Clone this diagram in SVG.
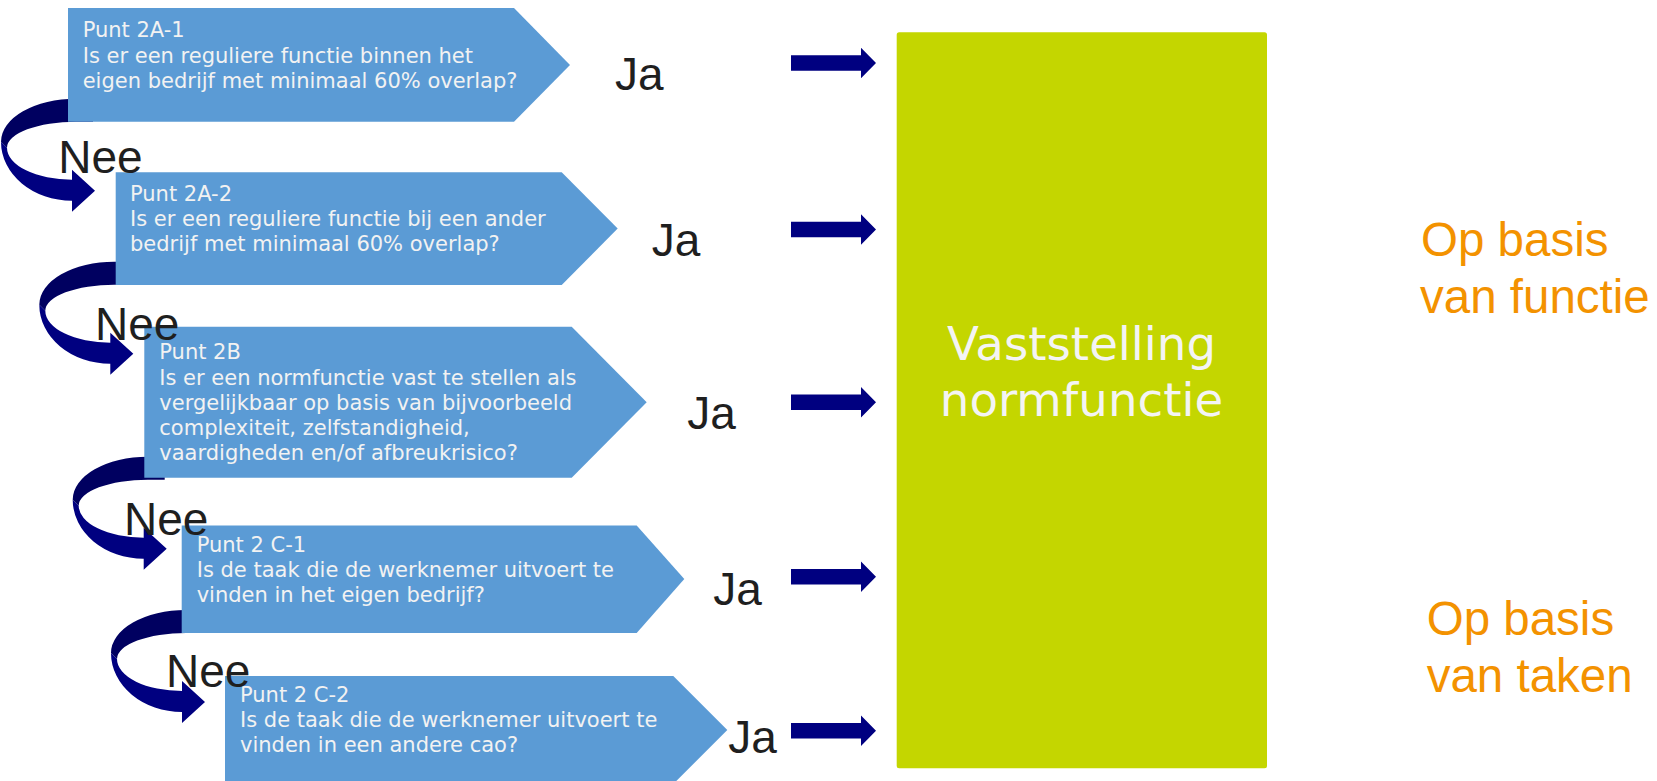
<svg xmlns="http://www.w3.org/2000/svg" width="1657" height="781" viewBox="0 0 1657 781">
<style>
.box{fill:#5b9bd5}
.bt{font-family:"DejaVu Sans",Verdana,sans-serif;font-size:21px;fill:#f2f2f2}
.lbl{font-family:"Liberation Sans",Arial,sans-serif;font-size:46px;fill:#1f1f1f}
.dark{fill:#000060}
.navy{fill:#000080}
.or{font-family:"Liberation Sans",Arial,sans-serif;font-size:47.5px;fill:#f39200}
.gt{font-family:"DejaVu Sans",Verdana,sans-serif;font-size:46.7px;fill:#f4f4f4;text-anchor:middle}
</style>
<rect width="1657" height="781" fill="#ffffff"/>
<g id="connectors">
  <g transform="translate(1,98.7)">
    <path class="dark" d="M92,0 L75,0 A75,43 0 0 0 0,43 L6,49 A69,26 0 0 1 75,23 L92,23 Z"/>
    <path class="navy" d="M0,43 A71,59 0 0 0 71,102 L71,113 L94,92 L71,71 L71,81 A65,32 0 0 1 6,49 Z"/>
  </g>
  <g transform="translate(39.3,261.7)">
    <path class="dark" d="M92,0 L75,0 A75,43 0 0 0 0,43 L6,49 A69,26 0 0 1 75,23 L92,23 Z"/>
    <path class="navy" d="M0,43 A71,59 0 0 0 71,102 L71,113 L94,92 L71,71 L71,81 A65,32 0 0 1 6,49 Z"/>
  </g>
  <g transform="translate(72.7,456.7)">
    <path class="dark" d="M92,0 L75,0 A75,43 0 0 0 0,43 L6,49 A69,26 0 0 1 75,23 L92,23 Z"/>
    <path class="navy" d="M0,43 A71,59 0 0 0 71,102 L71,113 L94,92 L71,71 L71,81 A65,32 0 0 1 6,49 Z"/>
  </g>
  <g transform="translate(111,610)">
    <path class="dark" d="M92,0 L75,0 A75,43 0 0 0 0,43 L6,49 A69,26 0 0 1 75,23 L92,23 Z"/>
    <path class="navy" d="M0,43 A71,59 0 0 0 71,102 L71,113 L94,92 L71,71 L71,81 A65,32 0 0 1 6,49 Z"/>
  </g>
  <path class="navy" transform="translate(791,63)" d="M0,-7.8 H70 V-15.3 L85,0 L70,15.3 V7.8 H0 Z"/>
  <path class="navy" transform="translate(791,229.5)" d="M0,-7.8 H70 V-15.3 L85,0 L70,15.3 V7.8 H0 Z"/>
  <path class="navy" transform="translate(791,402.3)" d="M0,-7.8 H70 V-15.3 L85,0 L70,15.3 V7.8 H0 Z"/>
  <path class="navy" transform="translate(791,576.7)" d="M0,-7.8 H70 V-15.3 L85,0 L70,15.3 V7.8 H0 Z"/>
  <path class="navy" transform="translate(791,730.8)" d="M0,-7.8 H70 V-15.3 L85,0 L70,15.3 V7.8 H0 Z"/>
</g>
<g id="node-2a1">
  <polygon class="box" points="68,8 514,8 570,65 514,121.7 68,121.7"/>
  <text class="bt" x="82.7" y="36.7">Punt 2A-1</text>
  <text class="bt" x="82.7" y="62.5">Is er een reguliere functie binnen het</text>
  <text class="bt" x="82.7" y="88.3">eigen bedrijf met minimaal 60% overlap?</text>
</g>
<g id="node-2a2">
  <polygon class="box" points="115.7,172.3 561.7,172.3 617.7,228.6 561.7,285 115.7,285"/>
  <text class="bt" x="130" y="200.7">Punt 2A-2</text>
  <text class="bt" x="130" y="226">Is er een reguliere functie bij een ander</text>
  <text class="bt" x="130" y="251">bedrijf met minimaal 60% overlap?</text>
</g>
<g id="node-2b">
  <polygon class="box" points="144.3,326.7 571.7,326.7 646.7,402.2 571.7,477.7 144.3,477.7"/>
  <text class="bt" x="159.3" y="359.3">Punt 2B</text>
  <text class="bt" x="159.3" y="385.2">Is er een normfunctie vast te stellen als</text>
  <text class="bt" x="159.3" y="410.2">vergelijkbaar op basis van bijvoorbeeld</text>
  <text class="bt" x="159.3" y="435.2">complexiteit, zelfstandigheid,</text>
  <text class="bt" x="159.3" y="460.2">vaardigheden en/of afbreukrisico?</text>
</g>
<g id="node-2c1">
  <polygon class="box" points="181.7,525.5 636.7,525.5 684.3,579 636.7,633 181.7,633"/>
  <text class="bt" x="196.7" y="552.3">Punt 2 C-1</text>
  <text class="bt" x="196.7" y="577">Is de taak die de werknemer uitvoert te</text>
  <text class="bt" x="196.7" y="601.7">vinden in het eigen bedrijf?</text>
</g>
<g id="node-2c2">
  <polygon class="box" points="225,676 673.3,676 727.3,730 673.3,784 225,784"/>
  <text class="bt" x="240" y="702.3">Punt 2 C-2</text>
  <text class="bt" x="240" y="727">Is de taak die de werknemer uitvoert te</text>
  <text class="bt" x="240" y="751.7">vinden in een andere cao?</text>
</g>
<g id="node-normfunctie">
  <rect x="896.7" y="32.3" width="370.3" height="736" rx="2.5" fill="#c4d600"/>
  <text class="gt" x="1081.5" y="360">Vaststelling</text>
  <text class="gt" x="1081.5" y="416">normfunctie</text>
</g>
<g id="labels">
  <text class="lbl" x="58.3" y="172.7">Nee</text>
  <text class="lbl" x="95" y="340">Nee</text>
  <text class="lbl" x="124" y="535">Nee</text>
  <text class="lbl" x="166" y="686.7">Nee</text>
  <text class="lbl" x="615" y="90">Ja</text>
  <text class="lbl" x="651.7" y="256">Ja</text>
  <text class="lbl" x="687.3" y="429.3">Ja</text>
  <text class="lbl" x="713.3" y="605">Ja</text>
  <text class="lbl" x="728.3" y="752.7">Ja</text>
</g>
<g id="node-functie">
  <text class="or" x="1421" y="256">Op basis</text>
  <text class="or" x="1420" y="313.3">van functie</text>
</g>
<g id="node-taken">
  <text class="or" x="1426.7" y="635">Op basis</text>
  <text class="or" x="1426.7" y="691.7">van taken</text>
</g>
</svg>
